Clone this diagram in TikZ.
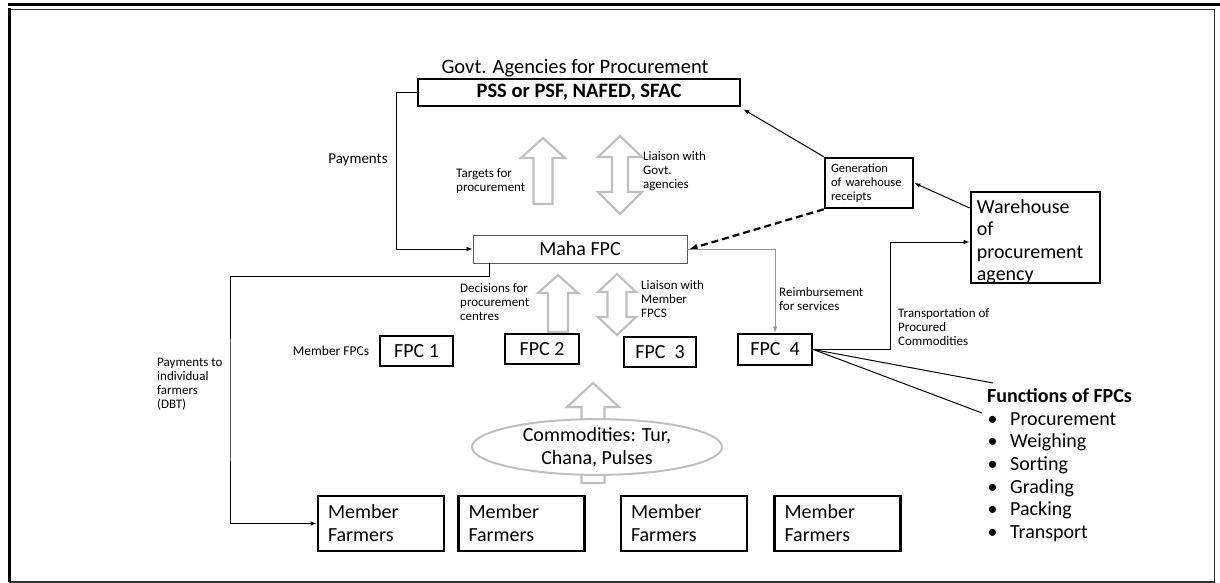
\documentclass[tikz,border=0pt]{standalone}
\usepackage{fontspec}
\setmainfont{Carlito}
\usetikzlibrary{arrows.meta,calc,shapes.geometric}
\definecolor{hollowgray}{RGB}{191,191,191}
\definecolor{linegray}{RGB}{150,150,150}
\begin{document}
\begin{tikzpicture}[x=1pt,y=-1pt,
  big/.style={font=\fontsize{20}{23}\selectfont},
  small/.style={font=\fontsize{13}{14}\selectfont},
  thickbox/.style={draw, line width=2.6pt, inner sep=0pt},
  fpcbox/.style={thickbox, big, minimum height=30pt},
  mfbox/.style={thickbox, big, minimum height=55pt, text width=106pt, align=left, inner xsep=10pt},
  arr/.style={-{Latex[length=6pt,width=4.5pt]}, line width=1pt},
  hollow/.style={draw=hollowgray, line width=2.2pt, fill=white, line join=miter},
  lbl/.style={small, align=left, anchor=west, inner sep=0pt},
]
\useasboundingbox (0,0) rectangle (1220,583);
% frame
\draw[line width=3pt] (8,5) -- (1220,5);
\draw[line width=1.5pt, draw=black!80] (10,9.5) rectangle (1214.5,582);
\draw[line width=3.5pt] (9.5,8.5) -- (9.5,582);

% hollow block arrows
\draw[hollow] (533.5,204) -- (533.5,158) -- (521,158) -- (543,138) -- (565,158) -- (552.5,158) -- (552.5,204) -- cycle;
\draw[hollow] (612,157) -- (598,157) -- (620,136) -- (642,157) -- (628,157) -- (628,192) -- (642,192) -- (620,214) -- (598,192) -- (612,192) -- cycle;
\draw[hollow] (548,332) -- (548,293) -- (538,293) -- (558,275) -- (578,293) -- (568,293) -- (568,332) -- cycle;
\draw[hollow] (607.5,292) -- (598,292) -- (617,274) -- (636,292) -- (626.5,292) -- (626.5,317) -- (636,317) -- (617,335) -- (598,317) -- (607.5,317) -- cycle;
\draw[hollow] (581.5,483) -- (581.5,407) -- (567,407) -- (593,383) -- (619,407) -- (604.5,407) -- (604.5,483) -- cycle;

% main nodes
\node[font=\fontsize{20.5}{23}\selectfont] (govt) at (575,68) {Govt. Agencies for Procurement};
\node[thickbox, minimum width=322pt, minimum height=27pt, font=\fontsize{20.5}{23}\selectfont\bfseries] (pss) at (579,92.5) {PSS or PSF, NAFED, SFAC};
\node[draw=black!65, line width=0.8pt, minimum width=214pt, minimum height=28pt, big, inner sep=0pt] (maha) at (580,249) {Maha FPC};
\node[thickbox, minimum width=88pt, minimum height=50pt, text width=76pt, align=left, font=\fontsize{12.5}{14}\selectfont] (gen) at (869,183) {Generation\\of warehouse\\receipts};
\node[thickbox, minimum width=129pt, minimum height=91pt,
  label={[font=\fontsize{20}{22.5}\selectfont, align=left, anchor=west, inner sep=0pt, xshift=7pt, yshift=-4.5pt]west:Warehouse\\of\\procurement\\agency}] (wh) at (1035.5,237.5) {};

\node[fpcbox, minimum width=73pt] (fpc1) at (416.5,351) {FPC 1};
\node[fpcbox, minimum width=74pt] (fpc2) at (542,349) {FPC 2};
\node[fpcbox, minimum width=72pt] (fpc3) at (660,352) {FPC~~3};
\node[fpcbox, minimum width=74pt, minimum height=31pt] (fpc4) at (775,349.5) {FPC~~4};

\node[ellipse, draw=hollowgray, line width=2pt, fill=white, minimum width=250pt, minimum height=55pt, inner sep=0pt, big, align=center] (comm) at (597,447) {Commodities: Tur,\\Chana, Pulses};

\node[mfbox] (mf1) at (381,523.5) {Member\\Farmers};
\node[mfbox] (mf2) at (521.5,523.5) {Member\\Farmers};
\node[mfbox] (mf3) at (684,523.5) {Member\\Farmers};
\node[mfbox] (mf4) at (837.5,523.5) {Member\\Farmers};

% labels
\node[font=\fontsize{15}{18}\selectfont] (paylbl) at (358,160) {Payments};
\node[lbl] (tgt) at (456,181) {Targets for\\procurement};
\node[lbl] (lg) at (643,171) {Liaison with\\Govt.\\agencies};
\node[lbl] (dec) at (460,302) {Decisions for\\procurement\\centres};
\node[lbl] (lm) at (641,299) {Liaison with\\Member\\FPCS};
\node[font=\fontsize{13.5}{15}\selectfont] (mfpcs) at (331,351) {Member FPCs};
\node[lbl] (dbt) at (157,384) {Payments to\\individual\\farmers\\(DBT)};
\node[lbl] (reimb) at (779,299) {Reimbursement\\for services};
\node[lbl] (transp) at (898,327.5) {Transportation of\\Procured\\Commodities};
\node[font=\fontsize{20}{22.7}\selectfont, align=left, anchor=west, inner sep=0pt] (func) at (987,465) {{\bfseries Functions of FPCs}\\
\makebox[23pt][l]{\hspace{0.5pt}\textbullet}Procurement\\
\makebox[23pt][l]{\hspace{0.5pt}\textbullet}Weighing\\
\makebox[23pt][l]{\hspace{0.5pt}\textbullet}Sorting\\
\makebox[23pt][l]{\hspace{0.5pt}\textbullet}Grading\\
\makebox[23pt][l]{\hspace{0.5pt}\textbullet}Packing\\
\makebox[23pt][l]{\hspace{0.5pt}\textbullet}Transport};

% connectors
\coordinate (dbtc) at (230,400);
\coordinate (tc) at (890,242);
\coordinate (f1) at (993,383);
\coordinate (f2) at (982,413);
\draw[arr] (pss.west) -- ++(-20,0) |- (maha.west);
\draw[arr] (gen.north west) -- ([shift={(2,2)}]pss.south east);
\draw[arr] ([yshift=29.5pt]wh.west) -- (gen.east);
\draw[-{Latex[length=8pt,width=6pt]}, line width=2.2pt, dash pattern=on 7pt off 4pt] (gen.south west) -- ([xshift=2pt]maha.east);
\draw[arr, draw=linegray, line width=0.9pt] (maha.east) -| (fpc4.north);
\draw[arr] (fpc4.east) -| (tc) -- ([yshift=-4.5pt]wh.west);
\draw[arr] ([xshift=17pt]maha.south west) -- ++(0,13) -| (dbtc) |- (mf1.west);
\draw[line width=1pt] (fpc4.east) -- (f1);
\draw[line width=1pt] (fpc4.east) -- (f2);
\end{tikzpicture}
\end{document}
